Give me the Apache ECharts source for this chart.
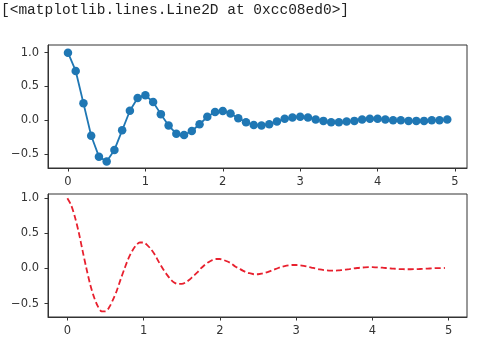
<!DOCTYPE html>
<html>
<head>
	<meta charset="UTF-8">
	<title>Line2D</title>
	<script src="https://cdn.jsdelivr.net/npm/echarts@6/dist/echarts.min.js"></script>
	<style>
		html, body { margin: 0; padding: 0; background: #fff; }
		#container { width: 487px; height: 352px; }
	</style>
</head>
<body>
	<div id="container"></div>
	<script>
		// top plot: sampled every 0.1
		var tTop = [0.0, 0.1, 0.2, 0.3, 0.4, 0.5, 0.6, 0.7, 0.8, 0.9,
			1.0, 1.1, 1.2, 1.3, 1.4, 1.5, 1.6, 1.7, 1.8, 1.9,
			2.0, 2.1, 2.2, 2.3, 2.4, 2.5, 2.6, 2.7, 2.8, 2.9,
			3.0, 3.1, 3.2, 3.3, 3.4, 3.5, 3.6, 3.7, 3.8, 3.9,
			4.0, 4.1, 4.2, 4.3, 4.4, 4.5, 4.6, 4.7, 4.8, 4.9];
		var yTop = [1.00, 0.73, 0.25, -0.23, -0.54, -0.61, -0.44, -0.15, 0.14, 0.33,
			0.37, 0.27, 0.09, -0.08, -0.20, -0.22, -0.16, -0.06, 0.05, 0.12,
			0.135, 0.10, 0.03, -0.03, -0.07, -0.08, -0.06, -0.02, 0.02, 0.04,
			0.05, 0.04, 0.01, -0.01, -0.03, -0.03, -0.02, -0.01, 0.01, 0.02,
			0.02, 0.01, 0.00, 0.00, -0.01, -0.01, -0.01, 0.00, 0.00, 0.01];

		// bottom plot: denser curve
		var tBottom = [0.00, 0.05, 0.10, 0.15, 0.20, 0.25, 0.30, 0.35, 0.40, 0.45,
			0.50, 0.55, 0.60, 0.65, 0.70, 0.75, 0.80, 0.85, 0.90, 0.95,
			1.00, 1.05, 1.10, 1.15, 1.20, 1.25, 1.30, 1.35, 1.40, 1.45,
			1.50, 1.55, 1.60, 1.65, 1.70, 1.75, 1.80, 1.85, 1.90, 1.95,
			2.00, 2.05, 2.10, 2.15, 2.20, 2.25, 2.30, 2.35, 2.40, 2.45,
			2.50, 2.55, 2.60, 2.65, 2.70, 2.75, 2.80, 2.85, 2.90, 2.95,
			3.00, 3.05, 3.10, 3.15, 3.20, 3.25, 3.30, 3.35, 3.40, 3.45,
			3.50, 3.55, 3.60, 3.65, 3.70, 3.75, 3.80, 3.85, 3.90, 3.95,
			4.00, 4.05, 4.10, 4.15, 4.20, 4.25, 4.30, 4.35, 4.40, 4.45,
			4.50, 4.55, 4.60, 4.65, 4.70, 4.75, 4.80, 4.85, 4.90, 4.95];
		var yBottom = [1.00, 0.90, 0.73, 0.51, 0.25, 0.00, -0.23, -0.41, -0.54, -0.61,
			-0.61, -0.55, -0.44, -0.31, -0.15, 0.00, 0.14, 0.25, 0.33, 0.37,
			0.37, 0.33, 0.27, 0.19, 0.09, 0.00, -0.08, -0.15, -0.20, -0.22,
			-0.22, -0.20, -0.16, -0.11, -0.06, 0.00, 0.05, 0.09, 0.12, 0.135,
			0.135, 0.12, 0.10, 0.07, 0.03, 0.00, -0.03, -0.056, -0.07, -0.082,
			-0.082, -0.074, -0.06, -0.042, -0.02, 0.00, 0.02, 0.034, 0.044, 0.050,
			0.050, 0.045, 0.036, 0.025, 0.013, 0.00, -0.011, -0.021, -0.027, -0.030,
			-0.030, -0.028, -0.022, -0.015, -0.008, 0.00, 0.007, 0.012, 0.016, 0.018,
			0.018, 0.016, 0.014, 0.009, 0.005, 0.00, -0.004, -0.008, -0.010, -0.011,
			-0.011, -0.010, -0.008, -0.006, -0.003, 0.00, 0.003, 0.005, 0.006, 0.007];

		var xTicks = [0, 1, 2, 3, 4, 5];
		var yTicks = [-0.5, 0.0, 0.5, 1.0];

		function pairs(xs, ys) {
			return xs.map(function (x, i) { return [x, ys[i]]; });
		}
		function fmtY(v) {
			return v.toFixed(1).replace('-', '\u2212');
		}

		var frame = '#333';
		var labelStyle = { color: '#333', fontSize: 11.5, fontFamily: 'DejaVu Sans' };

		function xAxis(idx, min, max) {
			return {
				type: 'value', gridIndex: idx, min: min, max: max,
				axisLine: { show: true, onZero: false, lineStyle: { color: frame, width: 1 } },
				axisTick: { show: true, length: 3.5, customValues: xTicks, lineStyle: { color: frame } },
				axisLabel: Object.assign({ customValues: xTicks, margin: 8 }, labelStyle),
				splitLine: { show: false }
			};
		}
		function yAxis(idx, min, max) {
			return {
				type: 'value', gridIndex: idx, min: min, max: max,
				axisLine: { show: true, onZero: false, lineStyle: { color: frame, width: 1 } },
				axisTick: { show: true, length: 3.5, customValues: yTicks, lineStyle: { color: frame } },
				axisLabel: Object.assign({ customValues: yTicks, margin: 9, formatter: fmtY }, labelStyle),
				splitLine: { show: false }
			};
		}

		var myChart = echarts.init(document.getElementById('container'), null, { renderer: 'canvas' });
		var option = {
			animation: false,
			backgroundColor: '#fff',
			title: {
				text: '[<matplotlib.lines.Line2D at 0xcc08ed0>]',
				left: 1, top: 3, padding: 0,
				textStyle: { fontFamily: 'Liberation Mono', fontSize: 14.5, fontWeight: 'normal', color: '#222' }
			},
			grid: [
				{ left: 48, top: 45, width: 419, height: 123, show: true, borderColor: frame, borderWidth: 1 },
				{ left: 48, top: 194, width: 419, height: 123, show: true, borderColor: frame, borderWidth: 1 }
			],
			xAxis: [xAxis(0, -0.258, 5.155), xAxis(1, -0.254, 5.24)],
			yAxis: [yAxis(0, -0.708, 1.114), yAxis(1, -0.691, 1.061)],
			series: [
				{
					type: 'line', xAxisIndex: 0, yAxisIndex: 0,
					data: pairs(tTop, yTop),
					symbol: 'circle', symbolSize: 8.5, showAllSymbol: true,
					lineStyle: { color: '#1f77b4', width: 1.8 },
					itemStyle: { color: '#1f77b4' }
				},
				{
					type: 'line', xAxisIndex: 1, yAxisIndex: 1,
					data: pairs(tBottom, yBottom),
					smooth: 0.3, symbol: 'none',
					lineStyle: { color: '#e8202e', width: 1.8, type: [6, 3] }
				}
			]
		};
		myChart.setOption(option);
	</script>
</body>
</html>
